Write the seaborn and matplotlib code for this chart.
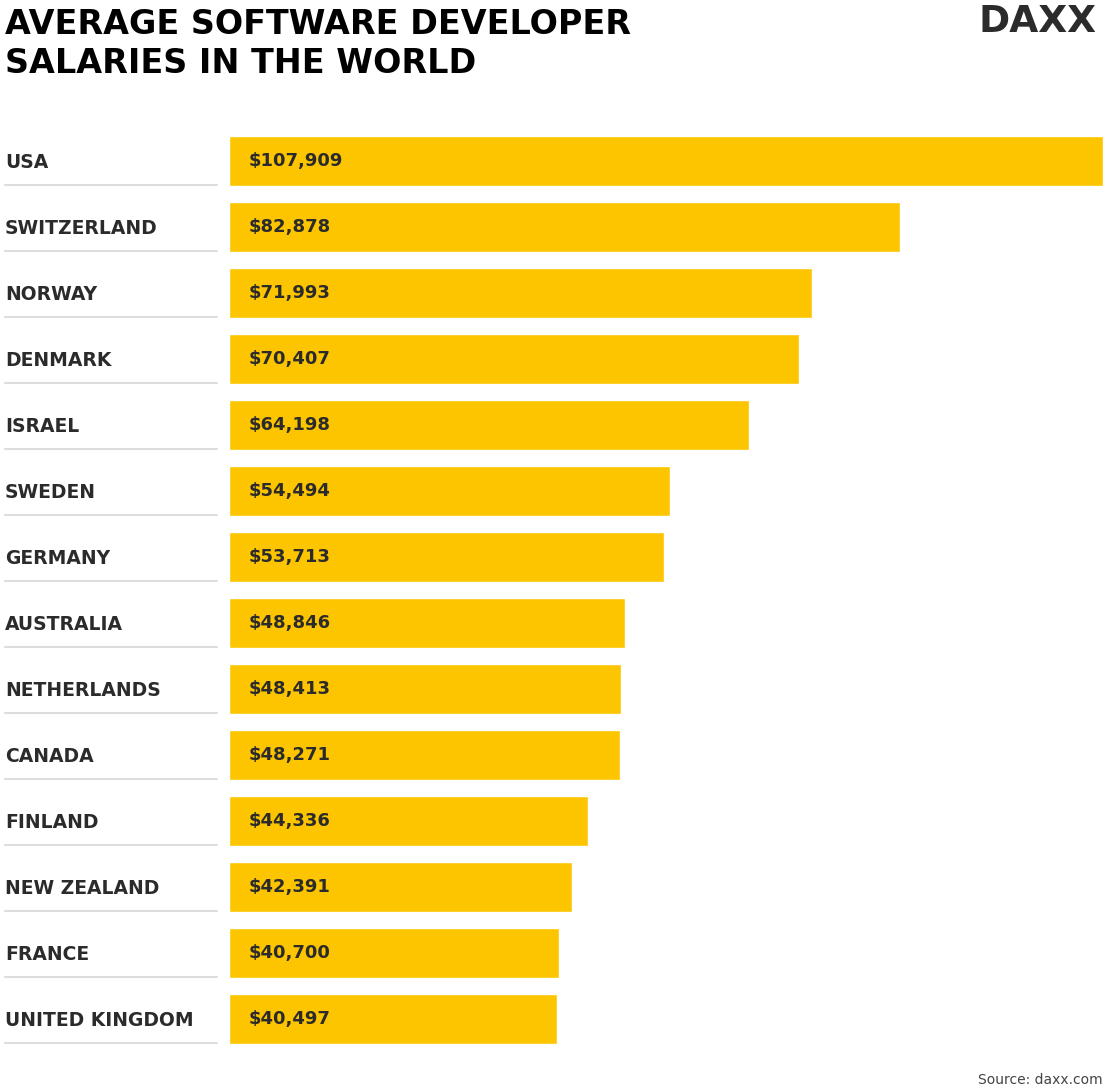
import matplotlib
matplotlib.use('Agg')
import matplotlib.pyplot as plt
import seaborn as sns
import pandas as pd

countries = ['USA', 'SWITZERLAND', 'NORWAY', 'DENMARK', 'ISRAEL', 'SWEDEN', 'GERMANY',
             'AUSTRALIA', 'NETHERLANDS', 'CANADA', 'FINLAND', 'NEW ZEALAND', 'FRANCE',
             'UNITED KINGDOM']
salaries = [107909, 82878, 71993, 70407, 64198, 54494, 53713,
            48846, 48413, 48271, 44336, 42391, 40700, 40497]

df = pd.DataFrame({'country': countries, 'salary': salaries})

sns.set_style('white')
plt.rcParams['font.family'] = ['DejaVu Sans']

DARK = '#2b2b2b'
fig = plt.figure(figsize=(11.1, 10.92), dpi=100)
ax = fig.add_axes([229 / 1110, 1 - 1052 / 1092, 874 / 1110, 924 / 1092])
sns.barplot(data=df, x='salary', y='country', color='#fdc400', saturation=1,
            width=50 / 66, ax=ax)
ax.set_xlim(0, 107909)
ax.set_ylim(13.5, -0.5)
ax.axis('off')

for i, (c, v) in enumerate(zip(countries, salaries)):
    ax.text(20 / 874 * 107909, i, '${:,}'.format(v), va='center', ha='left',
            fontsize=13, fontweight='bold', color=DARK)
    y = 1 - (163 + 66 * i) / 1092
    fig.text(5 / 1110, y, c, va='center', ha='left', fontsize=13.5,
             fontweight='bold', color=DARK)
    ly = 1 - (185 + 66 * i) / 1092
    fig.add_artist(plt.Line2D([5 / 1110, 217 / 1110], [ly, ly], color='#dddddd', lw=1.5))

fig.text(5 / 1110, 1 - 44 / 1092, 'AVERAGE SOFTWARE DEVELOPER\nSALARIES IN THE WORLD',
         va='center', ha='left', fontsize=24, fontweight='bold', color='black',
         linespacing=1.2)
fig.text(1038 / 1110, 1 - 22 / 1092, 'DAXX', va='center', ha='center', fontsize=27,
         fontweight='bold', color=DARK)
fig.text(1103 / 1110, 1 - 1080 / 1092, 'Source: daxx.com', va='center', ha='right',
         fontsize=10, color='#444444')

fig.savefig('out.png', dpi=100, facecolor='white')
